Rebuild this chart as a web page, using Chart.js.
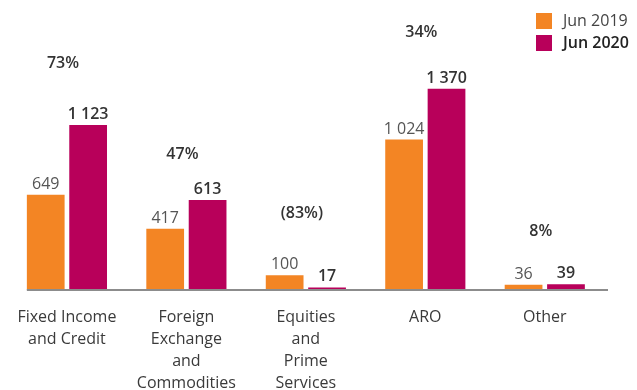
<!DOCTYPE html>
<html>
<head>
<meta charset="utf-8">
<script src="https://cdn.jsdelivr.net/npm/chart.js@4/dist/chart.umd.min.js"></script>
<style>
  html, body { margin: 0; padding: 0; background: #fff; }
  #wrap { width: 637px; height: 390px; position: relative; }
</style>
</head>
<body>
<div id="wrap"><canvas id="revenueChart"></canvas></div>
<script>
// Revenue by business line, Jun 2019 vs Jun 2020
const categories = [
    ['Fixed Income', 'and Credit'],
    ['Foreign', 'Exchange', 'and', 'Commodities'],
    ['Equities', 'and', 'Prime', 'Services'],
    ['ARO'],
    ['Other'],
];
const seriesNames = ['Jun 2019', 'Jun 2020'];
const jun2019 = [649, 417, 100, 1024, 36];
const jun2020 = [1123, 613, 17, 1370, 39];
const changeLabels = ['73%', '47%', '(83%)', '34%', '8%'];

const ORANGE = '#F38524';
const BERRY = '#B8005A';
const FONT = '"Open Sans", Lato, sans-serif';

// how far the change label sits above the taller bar in each group
const changeLift = [62, 46, 62, 56, 53];

// 1123 -> "1 123"
function fmt(v) {
    return String(v).replace(/\B(?=(\d{3})+(?!\d))/g, ' ');
}

// Value labels on each bar, the change % above each group, and the base line
const labelsPlugin = {
    id: 'barLabels',
    afterDatasetsDraw(chart) {
        const ctx = chart.ctx;
        const m0 = chart.getDatasetMeta(0).data;
        const m1 = chart.getDatasetMeta(1).data;
        const base = chart.scales.y.getPixelForValue(0);
        ctx.save();

        // base line, from the first bar to just past the last group
        ctx.strokeStyle = '#8c8c8c';
        ctx.lineWidth = 2;
        ctx.beginPath();
        ctx.moveTo(m0[0].x - m0[0].width / 2, base);
        ctx.lineTo(chart.chartArea.right + 3.5, base);
        ctx.stroke();

        ctx.textAlign = 'center';
        ctx.textBaseline = 'alphabetic';
        chart.data.datasets.forEach((ds, di) => {
            const meta = chart.getDatasetMeta(di);
            ctx.font = (di === 1 ? '600 ' : '') + '16px ' + FONT;
            ctx.fillStyle = di === 1 ? '#333' : '#555';
            meta.data.forEach((bar, i) => {
                ctx.fillText(fmt(ds.data[i]), bar.x, bar.y - 6);
            });
        });

        ctx.font = '600 16px ' + FONT;
        ctx.fillStyle = '#333';
        ctx.textBaseline = 'middle';
        changeLabels.forEach((txt, i) => {
            const cx = (m0[i].x + m1[i].x) / 2 - 4;
            const top = Math.min(m0[i].y, m1[i].y);
            ctx.fillText(txt, cx, top - changeLift[i]);
        });
        ctx.restore();
    },
};

// Legend box at top right, second entry in bold
const legendPlugin = {
    id: 'cornerLegend',
    afterDraw(chart) {
        const ctx = chart.ctx;
        ctx.save();
        ctx.textBaseline = 'middle';
        ctx.textAlign = 'left';
        chart.data.datasets.forEach((ds, i) => {
            const y = 13 + i * 22;
            ctx.fillStyle = ds.backgroundColor;
            ctx.fillRect(536, y, 16, 16);
            ctx.font = (i === 1 ? '600 ' : '') + '16px ' + FONT;
            ctx.fillStyle = i === 1 ? '#222' : '#444';
            ctx.fillText(ds.label, 563, y + 8.5);
        });
        ctx.restore();
    },
};

new Chart(document.getElementById('revenueChart'), {
    type: 'bar',
    data: {
        labels: categories,
        datasets: [
            { label: seriesNames[0], data: jun2019, backgroundColor: ORANGE },
            { label: seriesNames[1], data: jun2020, backgroundColor: BERRY },
        ],
    },
    options: {
        responsive: true,
        maintainAspectRatio: false,
        animation: false,
        categoryPercentage: 0.71,
        barPercentage: 0.89,
        layout: { padding: { left: 4.5, right: 32.5, top: 11, bottom: -21 } },
        plugins: {
            legend: { display: false },
            tooltip: { enabled: false },
        },
        scales: {
            x: {
                grid: { display: false, drawTicks: false },
                border: { display: false },
                ticks: {
                    color: '#3a3a3a',
                    padding: 17,
                    maxRotation: 0,
                    autoSkip: false,
                    font: { family: FONT, size: 16, lineHeight: 1.36 },
                },
            },
            y: {
                display: false,
                min: 0,
                max: 1900,
            },
        },
    },
    plugins: [labelsPlugin, legendPlugin],
});
</script>
</body>
</html>
